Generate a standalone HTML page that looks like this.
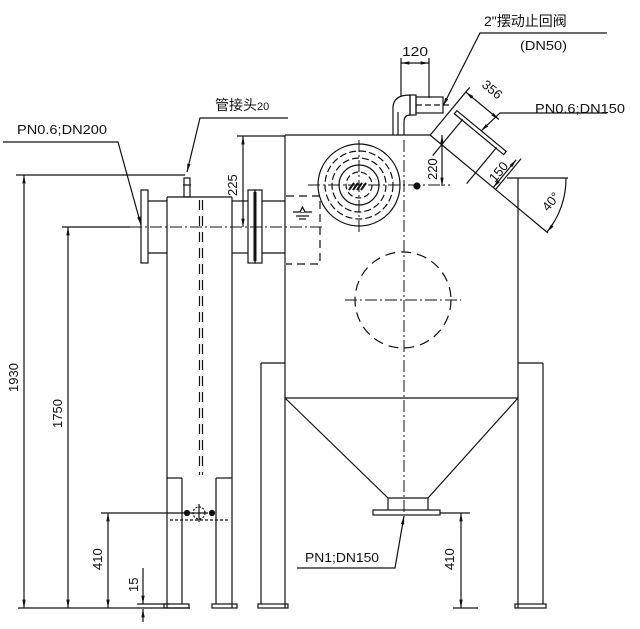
<!DOCTYPE html>
<html><head><meta charset="utf-8"><style>
html,body{margin:0;padding:0;background:#fff;}
svg{display:block;}
text{font-family:"Liberation Sans","Noto Sans CJK SC",sans-serif;fill:#111;}
</style></head><body>
<svg width="640" height="629" viewBox="0 0 640 629" xmlns="http://www.w3.org/2000/svg">
<defs>
<marker id="a" viewBox="0 0 10 10" refX="10" refY="5" markerWidth="7" markerHeight="7" orient="auto-start-reverse"><path d="M0,3 L10,5 L0,7 z" fill="#111"/></marker>
</defs>
<g stroke="#111" stroke-width="1.2" fill="none">
<line x1="18" y1="608" x2="190" y2="608"/>
<line x1="453" y1="608" x2="478" y2="608"/>
<line x1="16" y1="175" x2="185" y2="175"/>
<line x1="24" y1="175" x2="24" y2="608" marker-start="url(#a)" marker-end="url(#a)"/>
<line x1="62" y1="227" x2="130" y2="227"/>
<line x1="68" y1="227" x2="68" y2="608" marker-start="url(#a)" marker-end="url(#a)"/>
<line x1="101" y1="513" x2="186" y2="513"/>
<line x1="108" y1="513" x2="108" y2="608" marker-start="url(#a)" marker-end="url(#a)"/>
<line x1="143" y1="568" x2="143" y2="604" marker-end="url(#a)"/>
<line x1="143" y1="622" x2="143" y2="609" marker-end="url(#a)"/>
<line x1="137" y1="604" x2="170" y2="604"/>
<polyline points="3,142 118,142 141,225" marker-end="url(#a)"/>
<polyline points="288,118 200,118 187,172" marker-end="url(#a)"/>
<rect x="184" y="178" width="6" height="19"/>
<line x1="183" y1="185" x2="191" y2="185"/>
<line x1="167" y1="197" x2="232" y2="197"/>
<line x1="167" y1="197" x2="167" y2="608"/>
<line x1="232" y1="197" x2="232" y2="608"/>
<line x1="182" y1="478" x2="182" y2="604"/>
<line x1="216" y1="478" x2="216" y2="604"/>
<line x1="167" y1="478" x2="182" y2="478"/>
<line x1="216" y1="478" x2="232" y2="478"/>
<rect x="164" y="604" width="25" height="4"/>
<rect x="212" y="604" width="25" height="4"/>
<line x1="170" y1="520" x2="230" y2="520" stroke-dasharray="3,2"/>
<line x1="199.5" y1="200" x2="199.5" y2="475" stroke-dasharray="10,6"/>
<line x1="202.5" y1="200" x2="202.5" y2="475" stroke-dasharray="10,6"/>
<circle cx="199" cy="513" r="6" stroke-dasharray="2,1.5"/>
<line x1="199" y1="504" x2="199" y2="522"/><line x1="190" y1="513" x2="208" y2="513"/>
<circle cx="187" cy="513" r="2.5" fill="#111"/><circle cx="212" cy="513" r="2.5" fill="#111"/>
<rect x="141" y="190" width="7" height="73"/>
<line x1="148" y1="201" x2="167" y2="201"/><line x1="148" y1="253" x2="167" y2="253"/>
<line x1="232" y1="201" x2="248" y2="201"/><line x1="232" y1="253" x2="248" y2="253"/>
<rect x="248" y="190" width="7" height="73"/><rect x="255" y="190" width="7" height="73"/>
<line x1="255" y1="192" x2="255" y2="261" stroke-width="3"/>
<line x1="262" y1="201" x2="285" y2="201"/><line x1="262" y1="253" x2="285" y2="253"/>
<line x1="130" y1="227" x2="325" y2="227" stroke-dasharray="12,3,2,3" stroke-width="1"/>
<polyline points="286,196 320,196 320,264 286,264" stroke-dasharray="8,5"/>
<line x1="293" y1="212" x2="312" y2="212"/><line x1="296" y1="216" x2="309" y2="216"/><line x1="299" y1="219" x2="306" y2="219"/>
<path d="M300,212 L302.5,207 L305,212" fill="#fff"/>
<line x1="237" y1="136" x2="285" y2="136"/>
<line x1="243" y1="136" x2="243" y2="227" marker-start="url(#a)" marker-end="url(#a)"/>
<line x1="285" y1="135" x2="430" y2="135"/>
<line x1="285" y1="135" x2="285" y2="608"/>
<line x1="518" y1="178" x2="518" y2="608"/>
<line x1="430" y1="135" x2="548" y2="233"/>
<line x1="261" y1="363" x2="285" y2="363"/><line x1="261" y1="363" x2="261" y2="604"/>
<line x1="518" y1="363" x2="543" y2="363"/><line x1="543" y1="363" x2="543" y2="604"/>
<rect x="258" y="604" width="30" height="4"/><rect x="515" y="604" width="31" height="4"/>
<line x1="285" y1="398" x2="518" y2="398"/>
<polyline points="285,398 388,498 388,510"/><polyline points="518,398 428,498 428,510"/>
<line x1="388" y1="498" x2="428" y2="498"/>
<rect x="373" y="510" width="67" height="5"/>
<line x1="404" y1="140" x2="404" y2="515" stroke-dasharray="12,3,2,3" stroke-width="1"/>
<circle cx="403" cy="300" r="48" stroke-dasharray="10,6"/>
<line x1="345" y1="300" x2="461" y2="300" stroke-dasharray="12,3,2,3" stroke-width="1"/>
<circle cx="359" cy="185" r="41"/>
<circle cx="359" cy="185" r="34" stroke-dasharray="7,3"/>
<circle cx="359" cy="185" r="27" stroke-dasharray="7,3"/>
<circle cx="359" cy="185" r="20"/>
<circle cx="359" cy="185" r="13" stroke-dasharray="6,3"/>
<path d="M349,190 l5,-7 M353,190 l5,-7 M357,190 l5,-7 M361,190 l5,-7" stroke-width="2"/>
<line x1="308" y1="185" x2="450" y2="185" stroke-dasharray="12,3,2,3" stroke-width="1"/>
<line x1="359" y1="140" x2="359" y2="232" stroke-dasharray="12,3,2,3" stroke-width="1"/>
<circle cx="417" cy="186" r="3" fill="#111"/>
<line x1="442" y1="135" x2="442" y2="186" marker-start="url(#a)" marker-end="url(#a)"/>
<path d="M393,135 L393,108 Q393,95 410,95 L410,115 Q404,115 404,122 L404,135"/>
<line x1="398" y1="135" x2="398" y2="112"/>
<rect x="410" y="95" width="6" height="20"/>
<rect x="416" y="97" width="27" height="16"/>
<line x1="416" y1="105" x2="450" y2="105" stroke-dasharray="6,3"/>
<line x1="401" y1="58" x2="401" y2="96"/><line x1="429" y1="58" x2="429" y2="98"/>
<line x1="401" y1="63" x2="429" y2="63" marker-start="url(#a)" marker-end="url(#a)"/>
<polyline points="607,33 480,33 443,106" marker-end="url(#a)"/>
<g transform="translate(458.6,158.8) rotate(39.6)">
<line x1="-22" y1="0" x2="-22" y2="-33"/><line x1="22" y1="0" x2="22" y2="-33"/>
<rect x="-32" y="-36" width="64" height="4"/>
<line x1="-22" y1="0" x2="-22" y2="14"/><line x1="22" y1="0" x2="22" y2="14"/>
<line x1="-37" y1="0" x2="-37" y2="-62"/>
<line x1="-37" y1="-56" x2="6" y2="-56" marker-start="url(#a)" marker-end="url(#a)"/>
<line x1="48" y1="0" x2="48" y2="-40"/>
<line x1="45" y1="0" x2="45" y2="-36" marker-start="url(#a)" marker-end="url(#a)"/>
</g>
<polyline points="607,113 500,113 481,131" marker-end="url(#a)"/>
<line x1="507" y1="178" x2="568" y2="178"/>
<path d="M566,178 A84 84 0 0 1 547,232" marker-end="url(#a)"/>
<line x1="440" y1="513" x2="470" y2="513"/>
<line x1="461" y1="513" x2="461" y2="608" marker-start="url(#a)" marker-end="url(#a)"/>
<polyline points="297,568 395,568 404,516" marker-end="url(#a)"/>
</g>
<g font-size="13">
<text x="17" y="134" textLength="90" lengthAdjust="spacingAndGlyphs">PN0.6;DN200</text>
<text x="215" y="110" font-size="14">管接头<tspan font-size="11">20</tspan></text>
<text x="484" y="26" font-size="14">2"摆动止回阀</text>
<text x="520" y="50" textLength="47" lengthAdjust="spacingAndGlyphs">(DN50)</text>
<text x="402" y="56" textLength="26" lengthAdjust="spacingAndGlyphs">120</text>
<text x="535" y="113" textLength="90" lengthAdjust="spacingAndGlyphs">PN0.6;DN150</text>
<text x="305" y="562" textLength="74" lengthAdjust="spacingAndGlyphs">PN1;DN150</text>
<text transform="translate(18,392) rotate(-90)">1930</text>
<text transform="translate(62,428) rotate(-90)">1750</text>
<text transform="translate(102,570) rotate(-90)">410</text>
<text transform="translate(138,592) rotate(-90)">15</text>
<text transform="translate(237,196) rotate(-90)">225</text>
<text transform="translate(437,180) rotate(-90)">220</text>
<text transform="translate(454,570) rotate(-90)">410</text>
<text transform="translate(481,86) rotate(40)">356</text>
<text transform="translate(495,183) rotate(-50)">150</text>
<text transform="translate(548,212) rotate(-50)">40°</text>
</g>
</svg>
</body></html>
